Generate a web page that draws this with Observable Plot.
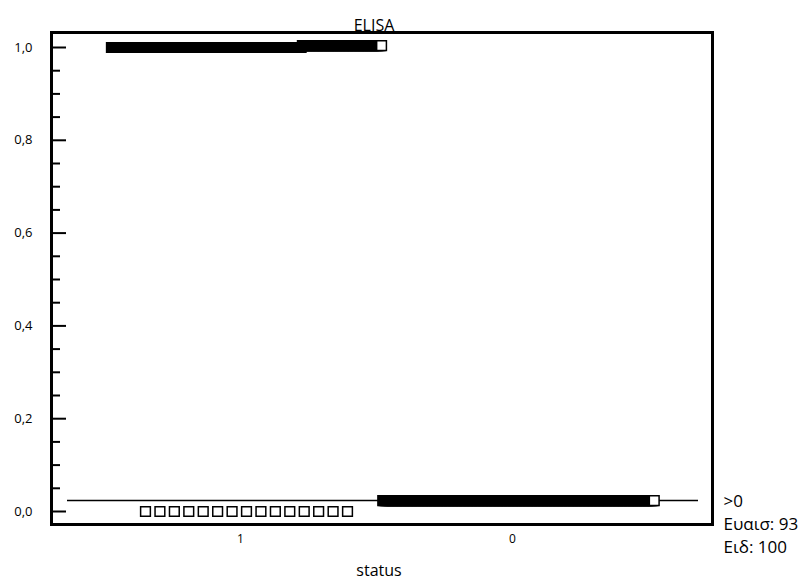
<!DOCTYPE html>
<html>
<head>
<meta charset="utf-8">
<script src="https://cdn.jsdelivr.net/npm/d3@7"></script>
<script src="https://cdn.jsdelivr.net/npm/@observablehq/plot@0.6"></script>
<style>
  html, body { margin: 0; padding: 0; background: #fff; }
  svg { font-family: "Open Sans", "DejaVu Sans", sans-serif; }
</style>
</head>
<body>
<div id="chart"></div>
<script>
// ---- data ----
const groups = ["1", "0"];                 // status categories, left to right
const groupPos = [1, 2];                   // position of each category on x
// status = 1 (positives)
const pos1CountAtOne = 140;                // dots at ELISA = 1,0 (lower strip)
const pos1CountAtOneB = 59;                // dots at ELISA slightly above 1,0 (upper strip)
const pos1ValueA = 1.0;
const pos1ValueB = 1.0043;
const pos1CountAtZero = 15;                // false negatives at 0,0
const pos1ZeroValue = 0.0;
// status = 0 (negatives)
const neg0Count = 200;
const neg0Value = 0.0237;
// criterion
const cutoffValue = 0.0237;
const cutoffLabel = ">0";
const sensLabel = "Ευαισ: 93";
const specLabel = "Ειδ: 100";
const yMajorTicks = [0, 0.2, 0.4, 0.6, 0.8, 1.0];
const yMinorTicks = d3.range(0, 1.0001, 0.05);
const titleText = "ELISA";
const xTitle = "status";

// ---- layout of dots within a group (spread horizontally, centred) ----
const unitPx = 272;                 // pixels per x unit
const densePitch = 1.364 / unitPx;  // pitch for the dense rows
const sparsePitch = 14.43 / unitPx; // pitch for the small row
function row(n, pitch, g, value, dense, startIndex = 0, total = n) {
  return d3.range(n).map(i => ({
    x: g + (startIndex + i - (total - 1) / 2) * pitch,
    y: value,
    hidden: dense && (startIndex + i) < total - 1   // interior covered by the next dot
  }));
}
const totalTop = pos1CountAtOne + pos1CountAtOneB;
const dots = [
  ...row(pos1CountAtOne, densePitch, groupPos[0], pos1ValueA, true, 0, totalTop),
  ...row(pos1CountAtOneB, densePitch, groupPos[0], pos1ValueB, true, pos1CountAtOne, totalTop),
  ...row(pos1CountAtZero, sparsePitch, groupPos[0], pos1ZeroValue, false),
  ...row(neg0Count, densePitch, groupPos[1], neg0Value, true)
];

const xDomain = [1 - 195 / unitPx, 2 + 194 / unitPx];
const yDomain = [-13 / 464, 1 + 15 / 464];

const chart = Plot.plot({
  width: 807,
  height: 581,
  marginLeft: 51,
  marginRight: 95,
  marginTop: 32,
  marginBottom: 57,
  style: { fontFamily: '"Open Sans", "DejaVu Sans", sans-serif', fontSize: "13px", color: "#000", background: "#fff" },
  x: { domain: xDomain },
  y: { domain: yDomain },
  marks: [
    Plot.axisY({
      ticks: yMajorTicks, tickSize: 0, tickPadding: 19,
      tickFormat: d => d.toFixed(1).replace(".", ","), label: null, fontSize: 13
    }),
    Plot.ruleY(yMajorTicks, { y: d => d, x1: xDomain[0], x2: xDomain[0] + 15 / unitPx, stroke: "#000", strokeWidth: 2 }),
    Plot.ruleY(yMinorTicks.filter(t => !yMajorTicks.some(m => Math.abs(m - t) < 1e-9)),
      { y: d => d, x1: xDomain[0], x2: xDomain[0] + 9 / unitPx, stroke: "#000", strokeWidth: 2 }),
    Plot.axisX({
      ticks: groupPos, tickSize: 0, tickPadding: 10, dx: -6,
      tickFormat: d => groups[groupPos.indexOf(d)], label: null, fontSize: 12
    }),
    Plot.ruleY([cutoffValue], { stroke: "#000", strokeWidth: 1.5, insetLeft: 16, insetRight: 14 }),
    Plot.dot(dots, {
      x: "x", y: "y", symbol: "square", r: 5.5,
      fill: d => d.hidden ? "#000" : "#fff", stroke: "#000", strokeWidth: 1.5
    }),
    Plot.frame({ stroke: "#000", strokeWidth: 3 }),
    Plot.text([`${cutoffLabel}\n${sensLabel}\n${specLabel}`], {
      frameAnchor: "right", y: [cutoffValue], dx: 11, dy: -10,
      textAnchor: "start", lineAnchor: "top", lineHeight: 1.35, fontSize: 17, fill: "#000"
    }),
    Plot.text([titleText], { frameAnchor: "top", dx: -8, dy: -2, lineAnchor: "bottom", fontSize: 16, fill: "#000" }),
    Plot.text([xTitle], { frameAnchor: "bottom", dx: -3, dy: 40, lineAnchor: "top", fontSize: 16, fill: "#000" })
  ]
});
document.getElementById("chart").appendChild(chart);
</script>
</body>
</html>
